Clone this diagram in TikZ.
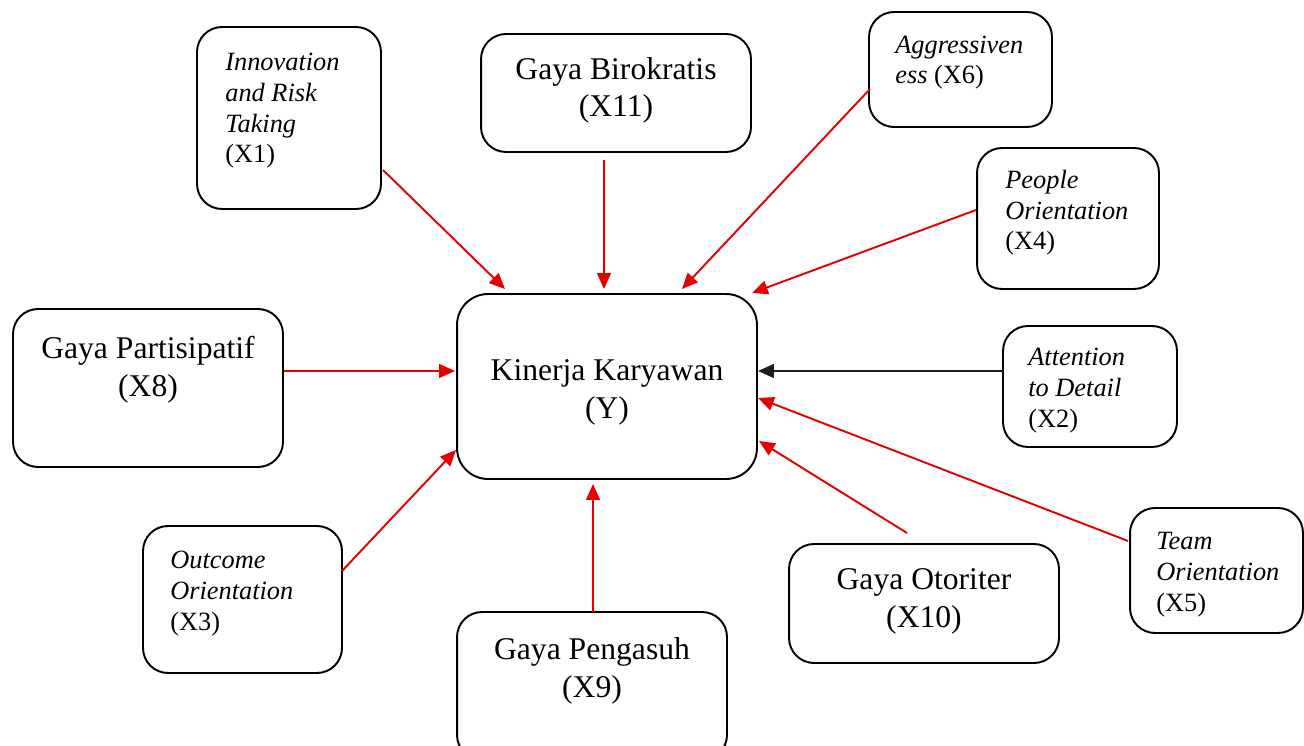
\documentclass[tikz,border=0pt]{standalone}
\usepackage{fontspec}
\setmainfont{Liberation Serif}
\usetikzlibrary{arrows.meta}
\definecolor{arrowred}{RGB}{228,0,0}
\definecolor{arrowblack}{RGB}{30,30,30}
\tikzset{
  box/.style={draw=black, line width=1.1pt, rounded corners=0.5cm, inner sep=0pt},
  bigbox/.style={box, rounded corners=0.62cm},
  big/.style={font=\fontsize{18}{21.6}\selectfont, inner sep=0pt, align=center, anchor=base},
  small/.style={font=\fontsize{15}{17.6}\selectfont, inner sep=0pt, align=left, anchor=base west},
  link/.style={draw=arrowred, line width=1.1pt, -{Triangle[length=9pt,width=7.8pt]}},
  darklink/.style={link, draw=arrowblack},
}
\begin{document}
\begin{tikzpicture}[x=0.02cm,y=-0.02cm]
  \useasboundingbox (0,0) rectangle (1304,746);
  \clip (0,0) rectangle (1304,746);

  % boxes
  \node[box, minimum width=3.68cm, minimum height=3.64cm] (x1)  at (289,118)   {};
  \node[box, minimum width=5.40cm, minimum height=2.36cm] (x11) at (616,93)    {};
  \node[box, minimum width=3.66cm, minimum height=2.30cm] (x6)  at (960.5,69.5) {};
  \node[box, minimum width=3.64cm, minimum height=2.82cm] (x4)  at (1068,218.5) {};
  \node[box, minimum width=5.40cm, minimum height=3.16cm] (x8)  at (148,388)   {};
  \node[bigbox, minimum width=6.00cm, minimum height=3.70cm] (y) at (607,386.5) {};
  \node[box, minimum width=3.48cm, minimum height=2.42cm] (x2)  at (1090,386.5) {};
  \node[box, minimum width=3.46cm, minimum height=2.50cm] (x5)  at (1216.5,570.5) {};
  \node[box, minimum width=3.98cm, minimum height=2.94cm] (x3)  at (242.5,599.5) {};
  \node[box, minimum width=5.40cm, minimum height=2.96cm] (x9)  at (592,686)   {};
  \node[box, minimum width=5.40cm, minimum height=2.38cm] (x10) at (924,603.5) {};

  % labels (placed by the baseline of their last line)
  \node[small] (t1)  at (225,163)  {\textit{Innovation}\\\textit{and Risk}\\\textit{Taking}\\(X1)};
  \node[big]   (t11) at (616,117)  {Gaya Birokratis\\(X11)};
  \node[small] (t6)  at (895,84)   {\textit{Aggressiven}\\\textit{ess} (X6)};
  \node[small] (t4)  at (1005,250) {\textit{People}\\\textit{Orientation}\\(X4)};
  \node[big]   (t8)  at (148,396)  {Gaya Partisipatif\\(X8)};
  \node[big]   (ty)  at (607,418)  {Kinerja Karyawan\\(Y)};
  \node[small] (t2)  at (1028,427) {\textit{Attention}\\\textit{to Detail}\\(X2)};
  \node[small] (t5)  at (1156,611) {\textit{Team}\\\textit{Orientation}\\(X5)};
  \node[small] (t3)  at (170,630)  {\textit{Outcome}\\\textit{Orientation}\\(X3)};
  \node[big]   (t9)  at (592,697)  {Gaya Pengasuh\\(X9)};
  \node[big]   (t10) at (924,627)  {Gaya Otoriter\\(X10)};

  % connector end points
  \coordinate (s1)  at (383,170);  \coordinate (e1)  at (505,289);
  \coordinate (s11) at (604,160);  \coordinate (e11) at (604,289);
  \coordinate (s6)  at (870,89);   \coordinate (e6)  at (682,289);
  \coordinate (s4)  at (976,210);  \coordinate (e4)  at (752,293);
  \coordinate (s8)  at (284,371);  \coordinate (e8)  at (455,371);
  \coordinate (s2)  at (1003,371); \coordinate (e2)  at (758,371);
  \coordinate (s5)  at (1128,541); \coordinate (e5)  at (758,398);
  \coordinate (s10) at (907,533);  \coordinate (e10) at (759,441);
  \coordinate (s9)  at (593,612);  \coordinate (e9)  at (593,484);
  \coordinate (s3)  at (342,571);  \coordinate (e3)  at (456,450);

  % connectors
  \draw[link] (s1) -- (e1);
  \draw[link] (s11) -- (e11);
  \draw[link] (s6) -- (e6);
  \draw[link] (s4) -- (e4);
  \draw[link] (s8) -- (e8);
  \draw[darklink] (s2) -- (e2);
  \draw[link] (s5) -- (e5);
  \draw[link] (s10) -- (e10);
  \draw[link] (s9) -- (e9);
  \draw[link] (s3) -- (e3);
\end{tikzpicture}
\end{document}
